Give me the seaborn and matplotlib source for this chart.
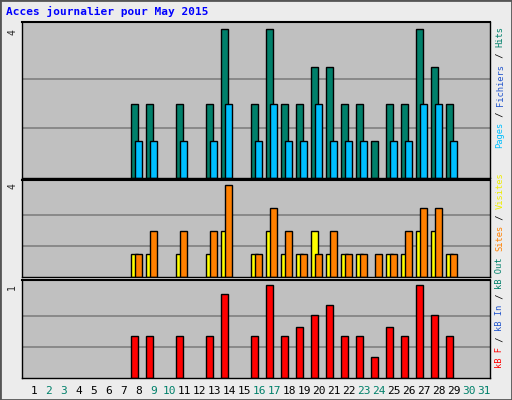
import matplotlib
matplotlib.use("Agg")
import matplotlib.pyplot as plt
import seaborn as sns
import numpy as np
import pandas as pd

sns.set_style("white")
plt.rcParams['font.family'] = ['DejaVu Sans Mono']

days = list(range(1, 32))
weekend = [2, 3, 9, 10, 16, 17, 23, 24, 30, 31]
active = [8, 9, 11, 13, 14, 16, 17, 18, 19, 20, 21, 22, 23, 24, 25, 26, 27, 28, 29]
hits    = [2, 2, 2, 2, 4, 2, 4, 2, 2, 3, 3, 2, 2, 1, 2, 2, 4, 3, 2]
files   = [1, 1, 1, 1, 2, 1, 2, 1, 1, 2, 1, 1, 1, 0, 1, 1, 2, 2, 1]
visits  = [1, 1, 1, 1, 2, 1, 2, 1, 1, 2, 1, 1, 1, 0, 1, 1, 2, 2, 1]
sites   = [1, 2, 2, 2, 4, 1, 3, 2, 1, 1, 2, 1, 1, 1, 1, 2, 3, 3, 1]
kbytes  = [0.445, 0.445, 0.445, 0.445, 0.90, 0.445, 1.0, 0.445, 0.55, 0.67,
           0.78, 0.445, 0.445, 0.23, 0.55, 0.445, 1.0, 0.67, 0.445]

W, H = 512, 400
fig = plt.figure(figsize=(W/100, H/100), dpi=100)
fig.patch.set_facecolor('#ececec')
fig.add_artist(plt.Rectangle((0, 0), 1, 1, transform=fig.transFigure,
                             fill=False, edgecolor='#555555', lw=2))

def ax_px(x0, y0, x1, y1):
    return fig.add_axes([x0/W, 1-y1/H, (x1-x0)/W, (y1-y0)/H])

x = np.array(active, dtype=float)
panels = [
    (ax_px(22, 22, 490, 178), 4, [(hits, -0.53, '#00806a'), (files, -0.27, '#00bfff')]),
    (ax_px(22, 180, 490, 277), 4, [(visits, -0.53, '#ffff00'), (sites, -0.27, '#ff8000')]),
    (ax_px(22, 280, 490, 378), 1, [(kbytes, -0.53, '#ff0000')]),
]
for ax, vmax, series in panels:
    ax.set_facecolor('#c0c0c0')
    for v in (vmax/3, 2*vmax/3):
        ax.axhline(v, color='#808080', lw=1.2, zorder=0)
    for vals, off, col in series:
        v = np.array(vals, dtype=float)
        m = v > 0
        ax.bar(x[m] + off, v[m], width=0.47, align='edge', color=col,
               edgecolor='black', lw=1, zorder=2)
    ax.set_xlim(0.2, 31.4)
    ax.set_ylim(0, vmax*1.05)
    ax.set_xticks([]); ax.set_yticks([])
    for s in ax.spines.values():
        s.set_color('black'); s.set_linewidth(1)
    ax.spines['top'].set_linewidth(1.5)

axb = panels[2][0]
for d in days:
    axb.text(d, -0.13, str(d), transform=axb.get_xaxis_transform(), ha='center', va='center',
             fontsize=8, color='#00806a' if d in weekend else 'black')

fig.text(6/W, 1-11/H, 'Acces journalier pour May 2015', color='#0000ff',
         fontsize=8, fontweight='bold', va='center', ha='left')
for yy, t in ((32, '4'), (186, '4'), (287, '1')):
    fig.text(12/W, 1-yy/H, t, rotation=90, fontsize=7, ha='center', va='center')

def column(pieces, ybottom, size=6.3, xpx=500):
    adv = 5.3
    y = ybottom
    for txt, col in pieces:
        fig.text(xpx/W, 1-y/H, txt, rotation=90, fontsize=size, color=col,
                 ha='center', va='bottom')
        y -= len(txt)*adv

column([('Pages', '#00bfff'), (' / ', 'black'), ('Fichiers', '#2255cc'),
        (' / ', 'black'), ('Hits', '#00806a')], 148)
column([('kB F', '#ff0000'), (' / ', 'black'), ('kB In', '#2255cc'), (' / ', 'black'),
        ('kB Out', '#00806a'), (' ', 'black'), ('Sites', '#ff8000'), (' / ', 'black'),
        ('Visites', '#eeee00')], 368)

fig.savefig('out.png', dpi=100, facecolor=fig.get_facecolor())
